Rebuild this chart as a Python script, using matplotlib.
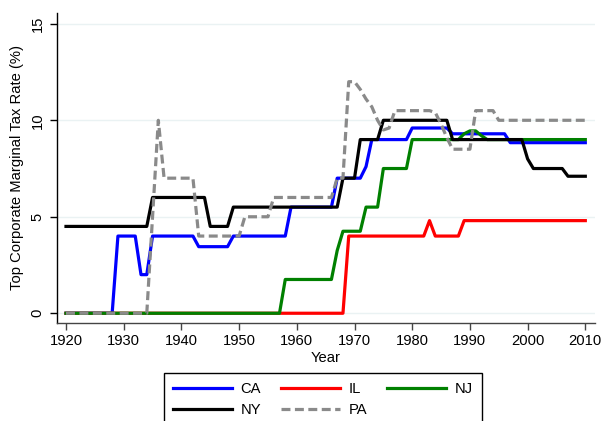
import matplotlib
matplotlib.use("Agg")
import matplotlib.pyplot as plt
import numpy as np

plt.rcParams['font.family'] = ['Liberation Sans', 'DejaVu Sans']

years = list(range(1920, 2011))

def series(points):
    """points: list of (start_year, value) step definitions -> annual values"""
    out = []
    for y in years:
        v = None
        for sy, val in points:
            if y >= sy:
                v = val
        out.append(v)
    return out

# Annual values (step changes by year)
ca_steps = [(1920, 0), (1929, 4.0), (1933, 2.0), (1935, 4.0), (1943, 3.45), (1949, 4.0),
            (1959, 5.5), (1967, 7.0), (1972, 7.6), (1973, 9.0), (1980, 9.6), (1987, 9.3),
            (1997, 8.84)]
il_steps = [(1920, 0), (1969, 4.0), (1983, 4.8), (1984, 4.0), (1989, 4.8)]
nj_steps = [(1920, 0), (1958, 1.75), (1967, 3.25), (1968, 4.25), (1972, 5.5), (1975, 7.5),
            (1980, 9.0), (1989, 9.3), (1990, 9.45), (1992, 9.2), (1993, 9.0)]
ny_steps = [(1920, 4.5), (1935, 6.0), (1945, 4.5), (1949, 5.5), (1968, 7.0), (1971, 9.0),
            (1975, 10.0), (1987, 9.0), (2000, 8.0), (2001, 7.5), (2007, 7.1)]
pa_steps = [(1920, 0), (1935, 5.0), (1936, 10.0), (1937, 7.0), (1943, 4.0), (1951, 5.0),
            (1956, 6.0), (1967, 7.0), (1969, 12.0), (1971, 11.6), (1972, 11.1), (1973, 10.7),
            (1974, 10.0), (1975, 9.5), (1976, 9.6), (1977, 10.5), (1984, 10.4), (1985, 9.8),
            (1986, 9.1), (1987, 8.5), (1991, 10.5), (1995, 10.0)]

CA = series(ca_steps)
IL = series(il_steps)
NJ = series(nj_steps)
NY = series(ny_steps)
PA = series(pa_steps)

x_ticks = [1920, 1930, 1940, 1950, 1960, 1970, 1980, 1990, 2000, 2010]
y_ticks = [0, 5, 10, 15]

W, H = 602, 421
fig = plt.figure(figsize=(W / 100, H / 100), dpi=100)
L, R, T, B = 57, 595, 13, 322.7
ax = fig.add_axes([L / W, 1 - B / H, (R - L) / W, (B - T) / H])

lw = 2.3
l_ca, = ax.plot(years, CA, color='#0000ff', lw=lw, label='CA')
l_il, = ax.plot(years, IL, color='#ff0000', lw=lw, label='IL')
l_nj, = ax.plot(years, NJ, color='#008000', lw=lw, label='NJ')
l_ny, = ax.plot(years, NY, color='#000000', lw=lw, label='NY')
l_pa, = ax.plot(years, PA, color='#8a8a8a', lw=lw, label='PA', dashes=(2.8, 1.4))

ax.set_xlim(1918.44, 2011.68)
ax.set_ylim(-0.49, 15.56)
ax.set_xticks(x_ticks)
ax.set_yticks(y_ticks)
ax.set_yticklabels([str(v) for v in y_ticks], rotation=90, va='center')

for v in y_ticks:
    ax.axhline(v, color='#eaf2f3', lw=1.0, zorder=0)

for s in ['top', 'right']:
    ax.spines[s].set_visible(False)
ax.spines['left'].set_color('black')
ax.spines['bottom'].set_color('#444444')
ax.spines['left'].set_linewidth(1.0)
ax.spines['bottom'].set_linewidth(1.0)
ax.tick_params(axis='both', direction='out', length=5, width=1.0, labelsize=10.6, colors='black')
ax.tick_params(axis='x', pad=3, color='#444444')
ax.tick_params(axis='y', pad=4)

ax.set_xlabel('Year', fontsize=10.6, labelpad=2)
ax.set_ylabel('Top Corporate Marginal Tax Rate (%)', fontsize=10.6, labelpad=5)

handles = [l_ca, l_ny, l_il, l_pa, l_nj]
leg = fig.legend(handles=handles, labels=[h.get_label() for h in handles], ncol=3,
                 loc='upper left', bbox_to_anchor=(164 / W, 1 - 373.3 / H),
                 frameon=True, fancybox=False, edgecolor='black', framealpha=1,
                 fontsize=10.6, handlelength=4.0, handletextpad=0.6, columnspacing=1.35,
                 labelspacing=0.48, borderpad=0.6, borderaxespad=0)
leg.get_frame().set_linewidth(1.0)

fig.savefig('out.png', dpi=100)
